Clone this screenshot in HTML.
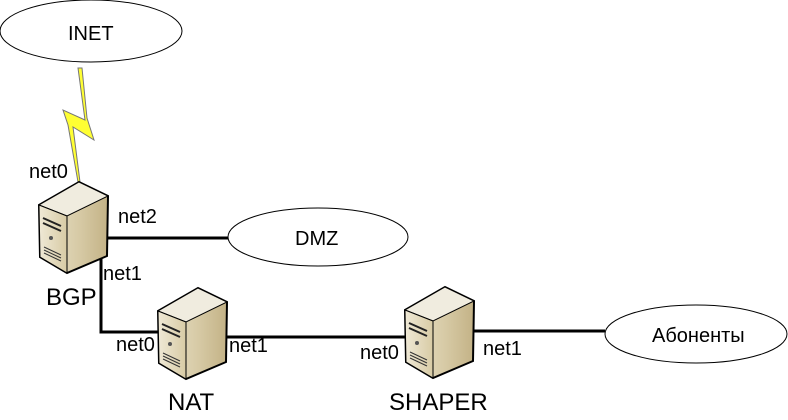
<!DOCTYPE html>
<html><head><meta charset="utf-8"><style>
html,body{margin:0;padding:0;background:#fff;}
svg text{font-family:"Liberation Sans",sans-serif;font-size:20px;fill:#000;}
svg text.big{font-size:24px;}
</style></head><body>
<svg width="788" height="415" viewBox="0 0 788 415" xmlns="http://www.w3.org/2000/svg">
<defs>
<linearGradient id="f" x1="0" x2="1"><stop offset="0" stop-color="#efe9d6"/><stop offset="1" stop-color="#d8cba5"/></linearGradient>
<linearGradient id="s" x1="0" x2="1"><stop offset="0" stop-color="#ebe4cf"/><stop offset="0.6" stop-color="#d6c9a4"/><stop offset="1" stop-color="#c3b286"/></linearGradient>
<g id="srv">
<polygon points="0,23 40,0 69,14 68,74 28,91 1,75" fill="url(#s)" stroke="#000" stroke-width="2"/>
<polygon points="0,23 40,0 69,14 28,34" fill="#f0ecdf" stroke="#000" stroke-width="1"/>
<polygon points="0,23 28,34 28,91 1,75" fill="url(#f)" stroke="#000" stroke-width="1"/>
<line x1="4" y1="36" x2="22" y2="44" stroke="#222" stroke-width="2"/>
<line x1="4" y1="41" x2="22" y2="49" stroke="#222" stroke-width="2"/>
<circle cx="12" cy="56" r="2" fill="#555"/>
<line x1="5" y1="65" x2="22" y2="73" stroke="#333"/>
<line x1="5" y1="68" x2="22" y2="76" stroke="#333"/>
<line x1="5" y1="71" x2="22" y2="79" stroke="#333"/>
</g>
</defs>
<g fill="#fff" stroke="#000" stroke-width="1">
<ellipse cx="91" cy="31" rx="91" ry="31"/>
<ellipse cx="318" cy="237" rx="90" ry="29"/>
<ellipse cx="696" cy="334" rx="91" ry="29"/>
</g>
<polygon points="78,68 82,68 87,118 94,140 73,127 80,182 78,182 68,125 63,110 85,120" fill="#ffff33" stroke="#777" stroke-width="1"/>
<g stroke="#000" stroke-width="3" fill="none">
<line x1="105" y1="238" x2="228" y2="238"/>
<polyline points="101,257 101,332 158,332"/>
<line x1="226" y1="337" x2="406" y2="337"/>
<line x1="472" y1="331" x2="605" y2="331"/>
</g>
<use href="#srv" x="39" y="182"/>
<use href="#srv" x="158" y="288"/>
<use href="#srv" x="405" y="287"/>
<text x="68" y="40">INET</text>
<text x="295" y="245">DMZ</text>
<text x="652" y="342">Абоненты</text>
<text x="29" y="178">net0</text>
<text x="118" y="223">net2</text>
<text x="103" y="280">net1</text>
<text class="big" x="46" y="305">BGP</text>
<text x="116" y="351">net0</text>
<text x="229" y="352">net1</text>
<text x="360" y="359">net0</text>
<text x="483" y="355">net1</text>
<text class="big" x="168" y="410">NAT</text>
<text class="big" x="389" y="410">SHAPER</text>
</svg>
</body></html>
